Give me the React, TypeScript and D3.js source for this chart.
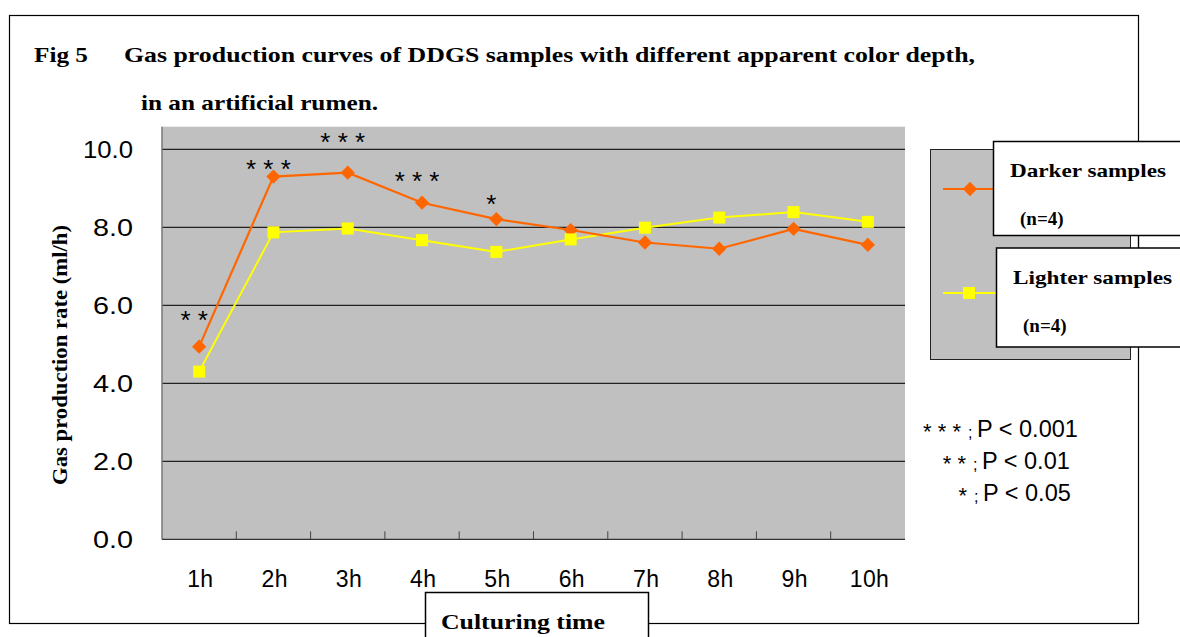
import React, { useRef, useEffect } from "react";
import * as d3 from "d3";

const hours = ["1h", "2h", "3h", "4h", "5h", "6h", "7h", "8h", "9h", "10h"];
const darker = [4.94, 9.3, 9.4, 8.63, 8.21, 7.93, 7.61, 7.45, 7.96, 7.55];
const lighter = [4.3, 7.87, 7.97, 7.67, 7.37, 7.69, 7.99, 8.25, 8.39, 8.14];
const yTicks = [0, 2, 4, 6, 8, 10];
const stars = ["* *", "* * *", "* * *", "* * *", "*", "", "", "", "", ""];
const starLift = [0.83, 0.35, 0.95, 0.7, 0.53, 0, 0, 0, 0, 0]; // how far above the darker point (in y units)
const pNotes = [
  { stars: "* * *", p: "P < 0.001" },
  { stars: "* *", p: "P < 0.01" },
  { stars: "*", p: "P < 0.05" },
];

const SERIF = "'Liberation Serif', 'Times New Roman', serif";
const SANS = "'Liberation Sans', Arial, sans-serif";

const App = () => {
  const svgRef = useRef<SVGSVGElement>(null);

  useEffect(() => {
    const width = 1180;
    const height = 637;
    const plotLeft = 162;
    const plotRight = 905;

    const svg = d3.select(svgRef.current).attr("width", width).attr("height", height);
    svg.selectAll("*").remove();

    svg.append("rect").attr("width", width).attr("height", height).attr("fill", "#fff");

    // outer frame
    svg.append("rect")
      .attr("x", 9.5).attr("y", 15.5).attr("width", 1129).attr("height", 608)
      .attr("fill", "none").attr("stroke", "#000").attr("stroke-width", 1.2);

    // title
    svg.append("text").attr("x", 34).attr("y", 62)
      .attr("font-family", SERIF).attr("font-weight", "bold").attr("font-size", 22)
      .attr("textLength", 54).attr("lengthAdjust", "spacingAndGlyphs")
      .text("Fig 5");
    svg.append("text").attr("x", 124).attr("y", 62)
      .attr("font-family", SERIF).attr("font-weight", "bold").attr("font-size", 22)
      .attr("textLength", 851).attr("lengthAdjust", "spacingAndGlyphs")
      .text("Gas production curves of DDGS samples with different apparent color depth,");
    svg.append("text").attr("x", 141).attr("y", 110)
      .attr("font-family", SERIF).attr("font-weight", "bold").attr("font-size", 22)
      .attr("textLength", 237).attr("lengthAdjust", "spacingAndGlyphs")
      .text("in an artificial rumen.");

    const x = d3.scaleBand().domain(hours).range([plotLeft, plotRight]);
    const y = d3.scaleLinear().domain([0, 10]).range([539.3, 149.3]);
    const cx = (i: number) => (x(hours[i]) as number) + x.bandwidth() / 2;

    // plot area
    svg.append("rect")
      .attr("x", plotLeft).attr("y", y(10.58))
      .attr("width", plotRight - plotLeft).attr("height", y(0) - y(10.58))
      .attr("fill", "#c0c0c0");

    svg.append("g").selectAll("line").data(yTicks.filter((d) => d > 0)).join("line")
      .attr("x1", plotLeft).attr("x2", plotRight)
      .attr("y1", (d) => y(d)).attr("y2", (d) => y(d))
      .attr("stroke", "#222").attr("stroke-width", 1.2);

    // y axis line
    svg.append("line")
      .attr("x1", plotLeft).attr("x2", plotLeft)
      .attr("y1", y(10.58)).attr("y2", y(0))
      .attr("stroke", "#777").attr("stroke-width", 1.5);
    // x axis line + ticks
    svg.append("line")
      .attr("x1", plotLeft).attr("x2", plotRight)
      .attr("y1", y(0)).attr("y2", y(0))
      .attr("stroke", "#333").attr("stroke-width", 1.2);
    svg.append("g").selectAll("line").data(hours.slice(1)).join("line")
      .attr("x1", (d) => x(d) as number).attr("x2", (d) => x(d) as number)
      .attr("y1", y(0) - 8).attr("y2", y(0))
      .attr("stroke", "#444").attr("stroke-width", 1);

    // y labels (tall, narrow digits)
    svg.append("g").selectAll("text").data(yTicks).join("text")
      .attr("x", (d) => (d >= 10 ? 83 : 93)).attr("y", (d) => y(d) + 9)
      .attr("font-family", SANS).attr("font-size", 23)
      .attr("textLength", (d) => (d >= 10 ? 50 : 40)).attr("lengthAdjust", "spacingAndGlyphs")
      .text((d) => d.toFixed(1));

    // x labels
    svg.append("g").selectAll("text").data(hours).join("text")
      .attr("x", (d, i) => cx(i) + 1 - (d.length > 2 ? 19 : 13)).attr("y", 587)
      .attr("font-family", SANS).attr("font-size", 23)
      .attr("textLength", (d) => (d.length > 2 ? 39 : 26)).attr("lengthAdjust", "spacing")
      .text((d) => d);

    // y title
    svg.append("text")
      .attr("transform", `translate(67,355) rotate(-90)`)
      .attr("text-anchor", "middle")
      .attr("font-family", SERIF).attr("font-weight", "bold").attr("font-size", 21)
      .attr("textLength", 260).attr("lengthAdjust", "spacingAndGlyphs")
      .text("Gas production rate (ml/h)");

    // lines
    const line = d3.line<number>().x((d, i) => cx(i)).y((d) => y(d));
    svg.append("path").datum(lighter).attr("d", line)
      .attr("fill", "none").attr("stroke", "#ffff00").attr("stroke-width", 2);
    svg.append("path").datum(darker).attr("d", line)
      .attr("fill", "none").attr("stroke", "#ff6600").attr("stroke-width", 2.2);

    const diamond = d3.symbol().type(d3.symbolDiamond2).size(130);
    svg.append("g").selectAll("path").data(darker).join("path")
      .attr("transform", (d, i) => `translate(${cx(i)},${y(d)})`)
      .attr("d", diamond()).attr("fill", "#ff6600");
    svg.append("g").selectAll("rect").data(lighter).join("rect")
      .attr("x", (d, i) => cx(i) - 6).attr("y", (d) => y(d) - 6)
      .attr("width", 12).attr("height", 12).attr("fill", "#ffff00");

    // significance stars
    svg.append("g").selectAll("text").data(stars).join("text")
      .attr("x", (d, i) => cx(i) - 5)
      .attr("y", (d, i) => y(darker[i] + starLift[i]) + 15)
      .attr("text-anchor", "middle")
      .attr("font-family", SANS).attr("font-size", 26)
      .text((d) => d);

    // legend
    svg.append("rect")
      .attr("x", 930.5).attr("y", 149.5).attr("width", 200).attr("height", 210)
      .attr("fill", "#c0c0c0").attr("stroke", "#222").attr("stroke-width", 1);

    svg.append("line").attr("x1", 943).attr("x2", 993).attr("y1", 189).attr("y2", 189)
      .attr("stroke", "#ff6600").attr("stroke-width", 2);
    svg.append("path").attr("transform", "translate(970,189)").attr("d", diamond()).attr("fill", "#ff6600");
    svg.append("line").attr("x1", 943).attr("x2", 997).attr("y1", 293).attr("y2", 293)
      .attr("stroke", "#ffff00").attr("stroke-width", 2);
    svg.append("rect").attr("x", 963).attr("y", 287).attr("width", 12).attr("height", 12).attr("fill", "#ffff00");

    const legendBoxes = [
      { x: 993, y: 141, h: 94, name: "Darker samples", nx: 1010, ny: 177, tw: 156 },
      { x: 996, y: 247.5, h: 99, name: "Lighter samples", nx: 1013, ny: 284, tw: 159 },
    ];
    legendBoxes.forEach((b) => {
      svg.append("rect").attr("x", b.x + 0.5).attr("y", b.y + 0.5)
        .attr("width", 220).attr("height", b.h)
        .attr("fill", "#fff").attr("stroke", "#000").attr("stroke-width", 1.5);
      svg.append("text").attr("x", b.nx).attr("y", b.ny)
        .attr("font-family", SERIF).attr("font-weight", "bold").attr("font-size", 19)
        .attr("textLength", b.tw).attr("lengthAdjust", "spacingAndGlyphs")
        .text(b.name);
      svg.append("text").attr("x", b.nx + 10).attr("y", b.ny + 48)
        .attr("font-family", SERIF).attr("font-weight", "bold").attr("font-size", 19)
        .text("(n=4)");
    });
    // frame edge peeking between the legend boxes
    svg.append("line").attr("x1", 1138.5).attr("x2", 1138.5).attr("y1", 235).attr("y2", 248)
      .attr("stroke", "#000").attr("stroke-width", 1.2);

    // p value notes
    const notes = svg.append("g");
    pNotes.forEach((n, i) => {
      const base = 437 + i * 32;
      const px = [977, 982, 983][i];
      notes.append("text").attr("x", px - 16).attr("y", base + 2)
        .attr("text-anchor", "end")
        .attr("font-family", SANS).attr("font-size", 22)
        .text(n.stars);
      notes.append("text").attr("x", px - 9).attr("y", base + 1)
        .attr("font-family", SANS).attr("font-size", 16)
        .text(";");
      notes.append("text").attr("x", px).attr("y", base)
        .attr("font-family", SANS).attr("font-size", 23.5)
        .text(n.p);
    });

    // x title box
    svg.append("rect").attr("x", 425.5).attr("y", 592.5).attr("width", 223).attr("height", 60)
      .attr("fill", "#fff").attr("stroke", "#000").attr("stroke-width", 1.5);
    svg.append("text").attr("x", 441).attr("y", 629)
      .attr("font-family", SERIF).attr("font-weight", "bold").attr("font-size", 22)
      .attr("textLength", 164).attr("lengthAdjust", "spacingAndGlyphs")
      .text("Culturing time");
  }, []);

  return (
    <div style={{ position: "absolute", left: 0, top: 0 }}>
      <svg ref={svgRef} style={{ display: "block" }}></svg>
    </div>
  );
};

export default App;
